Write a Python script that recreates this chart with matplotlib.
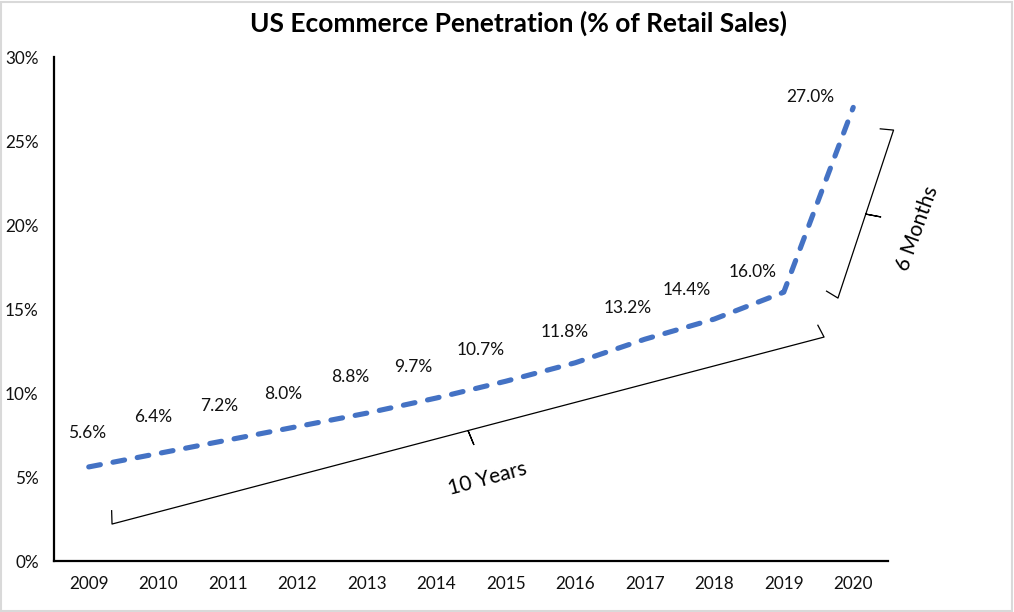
import numpy as np
import matplotlib
matplotlib.use("Agg")
import matplotlib.pyplot as plt
from matplotlib.patches import Rectangle

plt.rcParams['font.family'] = ['Lato', 'DejaVu Sans']

# datos
anios = ['2009', '2010', '2011', '2012', '2013', '2014', '2015', '2016',
         '2017', '2018', '2019', '2020']
penetracion = [5.6, 6.4, 7.2, 8.0, 8.8, 9.7, 10.7, 11.8, 13.2, 14.4, 16.0, 27.0]
etiquetas_y = ['0%', '5%', '10%', '15%', '20%', '25%', '30%']

# desplazamiento de cada etiqueta (pixeles) respecto a su punto
desp_x = [-2, -5, -9, -14, -16, -23, -25, -11, -17, -28, -31, -43]
desp_y = [34, 36, 34, 33, 36, 31, 31, 31, 31, 29, 20, 10]

AZUL = '#4472C4'

fig = plt.figure(figsize=(10.14, 6.12), dpi=100)
ax = fig.add_axes([54 / 1014, 51 / 612, 834 / 1014, 504 / 612])

x = np.arange(len(anios))
ax.plot(x, penetracion, color=AZUL, lw=3.7, ls=(0, (2.3, 2.5)),
        dash_capstyle='round', solid_capstyle='round', zorder=3)

for i, v in enumerate(penetracion):
    ax.annotate(f'{v:.1f}%', (x[i], v), xytext=(desp_x[i], desp_y[i]),
                textcoords='offset pixels', ha='center', va='center',
                fontsize=12.5, color='#111111')

ax.set_xlim(-0.5, len(anios) - 0.5)
ax.set_ylim(0, 30)
ax.set_xticks(x)
ax.set_xticklabels(anios)
ax.set_yticks(np.arange(0, 31, 5))
ax.set_yticklabels(etiquetas_y)
ax.tick_params(axis='both', length=0, labelsize=12.3, colors='#111111')
ax.tick_params(axis='y', pad=11)
ax.tick_params(axis='x', pad=11)
for s in ['top', 'right']:
    ax.spines[s].set_visible(False)
for s in ['left', 'bottom']:
    ax.spines[s].set_linewidth(1.6)
    ax.spines[s].set_color('black')

fig.text(519 / 1014, 1 - 23 / 612, 'US Ecommerce Penetration (% of Retail Sales)',
         ha='center', va='center', fontsize=19, fontweight='bold', color='black')


def llave(p0, p1, gancho=13, pico=15):
    # dibuja una llave entre p0 y p1 (datos); ganchos hacia la linea, pico hacia afuera
    a = ax.transData.transform(p0)
    b = ax.transData.transform(p1)
    d = (b - a) / np.linalg.norm(b - a)
    n = np.array([-d[1], d[0]])  # perpendicular hacia la izquierda de a->b
    m = (a + b) / 2
    pts = [a + n * gancho + d * 3, a, m, m - n * pico + d * 2, m, b, b + n * gancho - d * 3]
    pts = ax.transData.inverted().transform(np.array(pts))
    ax.plot(pts[:, 0], pts[:, 1], color='black', lw=0.9, clip_on=False, zorder=2)


fig.canvas.draw()
llave((0.335, 2.2), (10.58, 13.33))
llave((10.78, 15.65), (11.58, 25.65))

ax.text(5.73, 4.88, '10 Years', rotation=15, ha='center', va='center',
        fontsize=15, color='black', rotation_mode='anchor')
ax.text(11.93, 19.8, '6 Months', rotation=70, ha='center', va='center',
        fontsize=15, color='black', rotation_mode='anchor', clip_on=False)

fig.add_artist(Rectangle((0.001, 0.002), 0.997, 0.995, transform=fig.transFigure,
                         fill=False, edgecolor='#d9d9d9', lw=1.5))

fig.savefig('out.png', dpi=100, facecolor='white')
